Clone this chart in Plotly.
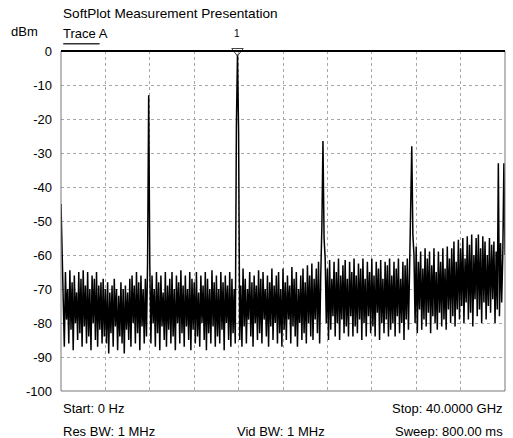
import plotly.graph_objects as go

# ---------------- data ----------------
# Measured trace level in dBm, 0.1 GHz steps from 0.0 to 40.0 GHz (401 points)
noise_dbm = [
    -60, -84, -66, -87, -65, -79, -70, -86, -64.5, -82, -68, -88, -66, -80, -71, -85, -65, -83, -67, -87,
    -64.5, -81, -69, -86, -65, -84, -70, -88, -66, -80, -67, -85, -65, -87, -69, -82, -68, -86, -67, -84,
    -70, -86, -68, -89, -71, -83, -69, -87, -67, -81, -70, -88, -72, -84, -68, -86, -70, -89, -69, -82,
    -71, -85, -67, -87, -66, -80, -69, -86, -65, -83, -68, -88, -66, -81, -70, -86, -67, -84, -62, -85,
    -63, -86, -66, -80, -70, -87, -65, -83, -68, -88, -66, -81, -71, -85, -65, -87, -69, -82, -67, -86,
    -65, -84, -70, -88, -66, -80, -68, -86, -64.5, -83, -69, -87, -66, -81, -70, -85, -65, -88, -67, -82,
    -68, -86, -65, -84, -71, -87, -66, -80, -69, -85, -65, -88, -67, -83, -70, -86, -64.5, -81, -68, -87,
    -66, -84, -70, -86, -65, -82, -68, -88, -66, -80, -69, -85, -65, -87, -67, -83, -70, -86, -66, -84,
    -65, -85, -69, -87, -64, -81, -67, -86, -70, -79, -65, -84, -68, -87, -66, -80, -69, -85, -64.5, -83,
    -67, -86, -65, -79, -70, -84, -66, -87, -68, -81, -64, -85, -69, -80, -66, -86, -65, -83, -70, -87,
    -64, -82, -68, -85, -66, -79, -69, -86, -63.5, -81, -67, -84, -65, -87, -70, -80, -66, -85, -64, -83,
    -68, -86, -63, -80, -66, -84, -62.5, -85, -67, -79, -64, -83, -62, -86, -66, -81, -63, -84, -61, -80,
    -64, -85, -61.5, -82, -67, -78, -62, -84, -65, -80, -61, -85, -66, -79, -63, -83, -61.5, -81, -67, -84,
    -62, -78, -65, -84, -61, -81, -66, -83, -62.5, -79, -64, -85, -61, -80, -67, -84, -62, -78, -65, -83,
    -61, -81, -66, -84, -62, -77, -64, -85, -61.5, -80, -67, -83, -62, -79, -63, -84, -61, -82, -66, -80,
    -62, -84, -64, -78, -61, -83, -67, -80, -62, -85, -63, -79, -61, -82, -65, -84, -58, -81, -60, -80,
    -57.5, -83, -62, -76, -59, -82, -64, -79, -58, -81, -61, -77, -59, -83, -63, -78, -58, -80, -65, -82,
    -59, -77, -62, -81, -58, -79, -64, -82, -57.5, -76, -61, -80, -58, -78, -56, -81, -62, -76, -55.5, -79,
    -58, -75, -55, -80, -61, -74, -54.5, -79, -57, -77, -54, -81, -60, -73, -55, -78, -54, -76, -58, -80,
    -54.5, -74, -56, -79, -60, -75, -55, -77, -57, -73, -56, -80, -59, -76, -57, -78, -56.5, -74, -60, -79,
    -60,
]

# Discrete signals (harmonics, LO feedthrough) in GHz / dBm
spike_ghz = [0.0, 0.1, 7.9, 15.8, 15.9, 16.0, 23.5, 23.6, 23.7, 31.5, 31.6, 31.7, 39.4, 39.9]
spike_dbm = [-45, -58, -13, -22, -1, -24, -52, -26.5, -55, -50, -28, -54, -33, -33]

# Marker 1
marker_ghz = [15.9]
marker_dbm = [0]
marker_label = ["1"]

y_tick_vals = [0, -10, -20, -30, -40, -50, -60, -70, -80, -90, -100]
y_tick_text = ["0", "-10", "-20", "-30", "-40", "-50", "-60", "-70", "-80", "-90", "-100"]
x_grid_ghz = [0, 4, 8, 12, 16, 20, 24, 28, 32, 36, 40]

title_text = "SoftPlot Measurement Presentation"
unit_text = "dBm"
trace_name = "Trace A"
start_text = "Start: 0 Hz"
stop_text = "Stop: 40.0000 GHz"
rbw_text = "Res BW: 1 MHz"
vbw_text = "Vid BW: 1 MHz"
sweep_text = "Sweep: 800.00 ms"

# ---------------- build trace ----------------
freq_ghz = [i / 10 for i in range(len(noise_dbm))]
level = list(noise_dbm)
for g, v in zip(spike_ghz, spike_dbm):
    level[int(round(g * 10))] = v

FONT = "Liberation Sans, Arial, sans-serif"
FS = 13

fig = go.Figure()
fig.add_trace(go.Scatter(
    x=freq_ghz, y=level, mode="lines",
    line=dict(color="#000000", width=1.5),
    showlegend=False, hoverinfo="skip",
))
fig.add_trace(go.Scatter(
    x=marker_ghz, y=marker_dbm, mode="markers",
    marker=dict(symbol="triangle-down-open", size=10, color="#444444",
                line=dict(width=1, color="#444444")),
    cliponaxis=False, showlegend=False, hoverinfo="skip",
))

fig.update_layout(
    width=513, height=438,
    margin=dict(l=61, r=8, t=51, b=47),
    paper_bgcolor="white", plot_bgcolor="white",
    font=dict(family=FONT, size=FS, color="black"),
    showlegend=False,
)
fig.update_xaxes(
    range=[0, 40], tickvals=x_grid_ghz, showticklabels=False, ticks="",
    showgrid=True, gridcolor="#a8a8a8", griddash="dot", gridwidth=1,
    zeroline=False, showline=False,
)
fig.update_yaxes(
    range=[-100, 0], tickvals=y_tick_vals, ticktext=y_tick_text, ticks="",
    ticklabelstandoff=8,
    showgrid=True, gridcolor="#a8a8a8", griddash="dot", gridwidth=1,
    zeroline=False, showline=False, tickfont=dict(size=FS),
)

# frame
fig.add_shape(type="rect", xref="paper", yref="paper", x0=0, x1=1, y0=0, y1=1,
              line=dict(color="#777777", width=1))
fig.add_shape(type="line", xref="paper", yref="paper", x0=0, x1=1, y0=1, y1=1,
              line=dict(color="black", width=2))
# legend-like underline under "Trace A"
fig.add_shape(type="line", xref="paper", yref="paper", x0=0.005, x1=0.087,
              y0=1.021, y1=1.021, line=dict(color="#333333", width=1.5))

ann = [
    dict(text=title_text, x=0.0, y=1.0, xref="paper", yref="paper",
         xanchor="left", yanchor="middle", yshift=38, font=dict(size=13.6)),
    dict(text=unit_text, x=0, y=1, xref="paper", yref="paper",
         xanchor="left", yanchor="middle", xshift=-52, yshift=20),
    dict(text=trace_name, x=0.0, y=1.0, xref="paper", yref="paper",
         xanchor="left", yanchor="middle", yshift=18),
    dict(text=marker_label[0], x=marker_ghz[0], y=1.0, xref="x", yref="paper",
         xanchor="center", yanchor="middle", yshift=18, font=dict(size=10)),
    dict(text=start_text, x=0.0, y=0.0, xref="paper", yref="paper",
         xanchor="left", yanchor="middle", yshift=-17),
    dict(text=stop_text, x=1.0, y=0.0, xref="paper", yref="paper",
         xanchor="right", yanchor="middle", yshift=-17),
    dict(text=rbw_text, x=0.0, y=0.0, xref="paper", yref="paper",
         xanchor="left", yanchor="middle", yshift=-40),
    dict(text=vbw_text, x=0.392, y=0.0, xref="paper", yref="paper",
         xanchor="left", yanchor="middle", yshift=-40),
    dict(text=sweep_text, x=1.0, y=0.0, xref="paper", yref="paper",
         xanchor="right", yanchor="middle", yshift=-40),
]
for a in ann:
    a.setdefault("showarrow", False)
    a.setdefault("font", dict(size=FS))
    fig.add_annotation(**a)

fig.write_html("out.html")
